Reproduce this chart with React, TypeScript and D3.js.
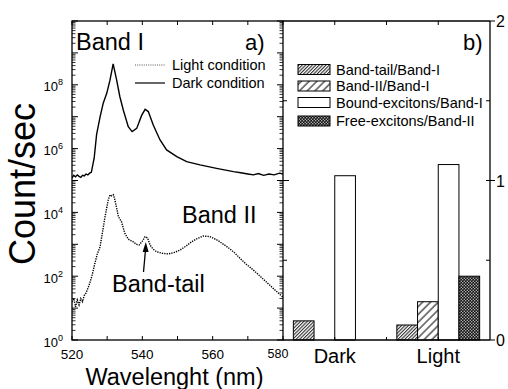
import React from "react";
import * as d3 from "d3";

// ---- Data: spectra (a) ----
const darkWl = [520, 520.5, 521, 521.5, 522, 522.5, 523, 523.5, 524, 524.5, 525, 525.5, 526.3, 527, 528, 528.9, 529.9, 530.8, 531.7, 532.7, 533.6, 534.6, 536, 537.1, 538.4, 539.8, 540.8, 541.7, 543.1, 545, 546.9, 549.8, 552.6, 556.4, 561.1, 565.9, 568, 570, 571.6, 573, 574.5, 576, 577.5, 579, 580];
const darkCounts = [1.2e5, 1.45e5, 1.3e5, 1.5e5, 1.35e5, 1.25e5, 1.45e5, 1.4e5, 1.6e5, 1.5e5, 1.7e5, 1.8e5, 5.0e5, 2.8e6, 1.0e7, 2.7e7, 5.5e7, 1.4e8, 4.5e8, 1.4e8, 4.3e7, 1.6e7, 4.9e6, 3.4e6, 4.3e6, 1.1e7, 1.7e7, 1.45e7, 5.5e6, 1.9e6, 9.1e5, 5.6e5, 3.9e5, 3.1e5, 2.4e5, 1.9e5, 1.75e5, 1.6e5, 1.5e5, 1.65e5, 1.45e5, 1.6e5, 1.5e5, 1.7e5, 1.6e5];

const lightWl = [520, 520.5, 521, 521.5, 522, 522.5, 523, 523.5, 524, 524.8, 525.6, 526.5, 527.2, 528, 528.7, 529.4, 530.3, 530.8, 531.3, 531.8, 532.2, 533.2, 534.1, 535, 536, 537.4, 538.3, 539.1, 540, 540.8, 541.5, 542.2, 543, 544, 545.5, 547.4, 549, 550.7, 552.5, 554, 555.6, 557.3, 559.2, 561.5, 564, 566, 567.8, 569.7, 571.6, 573.5, 575.5, 577.7, 580];
const lightCounts = [15.5, 20, 11, 18, 12.6, 20, 16, 25, 30, 50, 95, 250, 500, 850, 2500, 7400, 24500, 35500, 33000, 35500, 24500, 7400, 5000, 2240, 1450, 1200, 1000, 950, 1260, 1740, 1580, 950, 720, 590, 525, 500, 550, 660, 890, 1200, 1510, 1820, 1740, 1320, 850, 575, 360, 230, 155, 100, 62, 37, 22];

const xTicksA = [520, 540, 560, 580];
const yDecadesA = [0, 2, 4, 6, 8];

// ---- Data: ratios (b) ----
const conditions = ["Dark", "Light"];
const ratioSeries = ["Band-tail/Band-I", "Band-II/Band-I", "Bound-excitons/Band-I", "Free-excitons/Band-II"];
const bandTailRatio = [0.12, 0.094];
const bandIIRatio = [0, 0.24];
const boundRatio = [1.03, 1.1];
const freeRatio = [0, 0.4];
const yTicksB = [0, 1, 2];

const seriesFills = ["url(#hatchDense)", "url(#hatchSparse)", "#fff", "url(#checker)"];

export default function App() {
  const W = 508, H = 389;
  const top = 21, bottom = 340;
  const aL = 72, aR = 283, bR = 490;

  const x = d3.scaleLinear().domain([520, 580]).range([aL, aR]);
  const y = d3.scaleLog().domain([1, 1e10]).range([bottom, top]);
  const xb = d3.scaleLinear().domain([0.5, 2.5]).range([aR, bR]);
  const yb = d3.scaleLinear().domain([0, 2]).range([bottom, top]);

  const line = d3.line<[number, number]>().x((d) => x(d[0])).y((d) => y(d[1]));
  const darkPath = line(darkWl.map((w, i) => [w, darkCounts[i]]) as [number, number][]) || "";
  const lightPath = line(lightWl.map((w, i) => [w, lightCounts[i]]) as [number, number][]) || "";

  // log ticks
  const minorTicks: number[] = [];
  const majorTicks: number[] = [];
  for (let e = 0; e < 10; e++) {
    majorTicks.push(Math.pow(10, e));
    for (let k = 2; k <= 9; k++) minorTicks.push(k * Math.pow(10, e));
  }
  majorTicks.push(1e10);
  const xMinor = d3.range(520, 581, 10);

  const seriesVals = [bandTailRatio, bandIIRatio, boundRatio, freeRatio];
  const slot = 0.2;
  const bars: { x0: number; x1: number; yTop: number; fill: string; key: string }[] = [];
  conditions.forEach((c, ci) => {
    seriesVals.forEach((vals, si) => {
      const v = vals[ci];
      if (v <= 0) return;
      const cx = ci + 1;
      const x0 = xb(cx + (si - 2) * slot);
      const x1 = xb(cx + (si - 1) * slot);
      bars.push({ x0, x1, yTop: yb(v), fill: seriesFills[si], key: `${c}-${si}` });
    });
  });

  const font = "'Liberation Sans', Arial, Helvetica, sans-serif";

  return (
    <svg width={W} height={H} style={{ position: "absolute", left: 0, top: 0, background: "#fff" }} fontFamily={font}>
      <defs>
        <pattern id="hatchDense" patternUnits="userSpaceOnUse" width={2.4} height={10} patternTransform="rotate(45)">
          <rect width={2.4} height={10} fill="#fff" />
          <line x1={0.6} y1={0} x2={0.6} y2={10} stroke="#000" strokeWidth={0.9} />
        </pattern>
        <pattern id="hatchSparse" patternUnits="userSpaceOnUse" width={5.5} height={10} patternTransform="rotate(45)">
          <rect width={5.5} height={10} fill="#fff" />
          <line x1={1} y1={0} x2={1} y2={10} stroke="#000" strokeWidth={1} />
        </pattern>
        <pattern id="checker" patternUnits="userSpaceOnUse" width={3} height={3}>
          <rect width={3} height={3} fill="#111" />
          <rect x={0.2} y={0.2} width={1.1} height={1.1} fill="#fff" />
          <rect x={1.7} y={1.7} width={1.1} height={1.1} fill="#fff" />
        </pattern>
        <clipPath id="clipA">
          <rect x={aL} y={top} width={aR - aL} height={bottom - top} />
        </clipPath>
      </defs>

      {/* ---- Panel a ---- */}
      <g clipPath="url(#clipA)">
        <path d={darkPath} fill="none" stroke="#000" strokeWidth={1.4} />
        <path d={lightPath} fill="none" stroke="#000" strokeWidth={1.4} strokeDasharray="1.3 1.1" />
      </g>
      <rect x={aL} y={top} width={aR - aL} height={bottom - top} fill="none" stroke="#000" strokeWidth={1.3} />
      {/* y ticks left & right */}
      {majorTicks.map((t) => (
        <g key={"M" + t}>
          <line x1={aL} x2={aL + 6} y1={y(t)} y2={y(t)} stroke="#000" strokeWidth={1} />
          <line x1={aR} x2={aR - 6} y1={y(t)} y2={y(t)} stroke="#000" strokeWidth={1} />
        </g>
      ))}
      {minorTicks.map((t) => (
        <g key={"m" + t}>
          <line x1={aL} x2={aL + 3.5} y1={y(t)} y2={y(t)} stroke="#000" strokeWidth={0.8} />
          <line x1={aR} x2={aR - 3.5} y1={y(t)} y2={y(t)} stroke="#000" strokeWidth={0.8} />
        </g>
      ))}
      {xMinor.map((t) => (
        <g key={"x" + t}>
          <line x1={x(t)} x2={x(t)} y1={bottom} y2={bottom - 4} stroke="#000" strokeWidth={1} />
          <line x1={x(t)} x2={x(t)} y1={top} y2={top + 4} stroke="#000" strokeWidth={1} />
        </g>
      ))}
      {yDecadesA.map((e) => (
        <text key={"yl" + e} x={aL - 9} y={y(Math.pow(10, e)) + 6.5} fontSize={13} textAnchor="end">
          10<tspan dy={-6} fontSize={9}>{e}</tspan>
        </text>
      ))}
      {xTicksA.map((t) => (
        <text key={"xl" + t} x={t === 580 ? x(t) - 5 : x(t)} y={t === 580 ? 357.5 : 359} fontSize={t === 580 ? 12.5 : 13.5} textAnchor="middle">
          {t}
        </text>
      ))}
      <text x={174.5} y={385} fontSize={23.5} textAnchor="middle">Wavelenght (nm)</text>
      <text transform="translate(35,184) rotate(-90)" fontSize={36} textAnchor="middle">Count/sec</text>

      <text x={76} y={50} fontSize={23.5}>Band I</text>
      <text x={245} y={50} fontSize={22}>a)</text>
      <text x={182} y={223} fontSize={23.5}>Band II</text>
      <text x={112} y={292} fontSize={23.5}>Band-tail</text>
      {/* arrow */}
      <line x1={143.5} y1={272} x2={145.5} y2={250} stroke="#000" strokeWidth={1.3} />
      <path d="M145.8,242 L142.6,252 L148.6,252 Z" fill="#000" />

      {/* legend a */}
      <line x1={135} x2={165} y1={65} y2={65} stroke="#555" strokeWidth={1} strokeDasharray="1 1.2" />
      <text x={172} y={70} fontSize={14.5}>Light condition</text>
      <line x1={135} x2={165} y1={83} y2={83} stroke="#000" strokeWidth={1.2} />
      <text x={172} y={88} fontSize={14.5}>Dark condition</text>

      {/* ---- Panel b ---- */}
      {bars.map((b) => (
        <rect key={b.key} x={b.x0} y={b.yTop} width={b.x1 - b.x0} height={bottom - b.yTop} fill={b.fill} stroke="#000" strokeWidth={1} />
      ))}
      <line x1={aR} x2={bR} y1={top} y2={top} stroke="#000" strokeWidth={1.3} />
      <line x1={aR} x2={bR} y1={bottom} y2={bottom} stroke="#000" strokeWidth={1.3} />
      <line x1={bR} x2={bR} y1={top} y2={bottom} stroke="#000" strokeWidth={1.3} />
      {[0.5, 1, 1.5].map((t) => (
        <g key={"bt" + t}>
          <line x1={aR} x2={aR + (t === 1 ? 6 : 4)} y1={yb(t)} y2={yb(t)} stroke="#000" strokeWidth={1} />
          <line x1={bR} x2={bR - 4} y1={yb(t)} y2={yb(t)} stroke="#000" strokeWidth={1} />
        </g>
      ))}
      {yTicksB.map((t) => (
        <g key={"by" + t}>
          <line x1={bR} x2={bR + 5} y1={yb(t)} y2={yb(t)} stroke="#000" strokeWidth={1} />
          <text x={496} y={yb(t) + 6} fontSize={16}>{t}</text>
        </g>
      ))}
      {[1, 1.5, 2].map((t) => (
        <g key={"bx" + t}>
          <line x1={xb(t)} x2={xb(t)} y1={top} y2={top + 4} stroke="#000" strokeWidth={1} />
          <line x1={xb(t)} x2={xb(t)} y1={bottom} y2={bottom - 3} stroke="#000" strokeWidth={1} />
        </g>
      ))}
      {conditions.map((c, i) => (
        <text key={c} x={xb(i + 1)} y={363} fontSize={20} textAnchor="middle">{c}</text>
      ))}
      <text x={463} y={50} fontSize={22}>b)</text>

      {/* legend b */}
      {ratioSeries.map((s, i) => {
        const cy = [69.5, 86, 102.5, 121][i];
        return (
          <g key={s}>
            <rect x={298} y={cy - 5} width={32} height={10} fill={seriesFills[i]} stroke="#000" strokeWidth={1} />
            <text x={336} y={cy + 5} fontSize={14.5}>{s}</text>
          </g>
        );
      })}
    </svg>
  );
}
